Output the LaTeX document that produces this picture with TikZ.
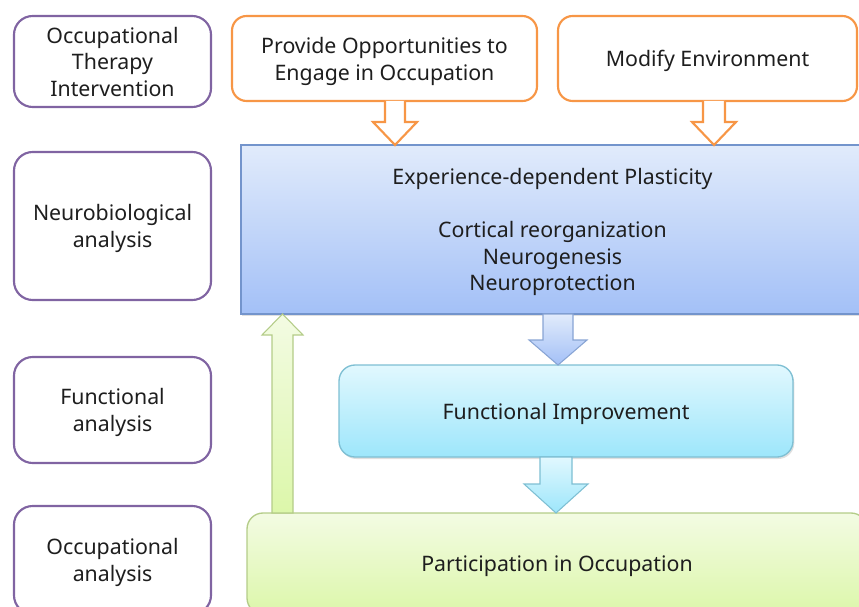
\documentclass[tikz,border=0pt]{standalone}
\usepackage{fontspec}
\setmainfont{Noto Sans}
\usetikzlibrary{calc,shadows}
\definecolor{txt}{HTML}{1E1E1E}
\definecolor{purp}{HTML}{8064A2}
\definecolor{oran}{HTML}{F79646}
\definecolor{bluB}{HTML}{7394CC}
\definecolor{bluT}{HTML}{E1EBFB}
\definecolor{bluD}{HTML}{A3C0F7}
\definecolor{cyaB}{HTML}{7EBFD3}
\definecolor{cyaT}{HTML}{E1F8FE}
\definecolor{cyaD}{HTML}{9DE6FB}
\definecolor{grnB}{HTML}{B4CC88}
\definecolor{grnT}{HTML}{F3FBE3}
\definecolor{grnD}{HTML}{DCF7AA}
\tikzset{
  base/.style={inner sep=0pt, outer sep=0pt, align=center, text=txt,
    font=\fontsize{16}{19.9}\selectfont},
  pbox/.style={base, draw=purp, line width=1.6pt, rounded corners=14pt, fill=white},
  obox/.style={base, draw=oran, line width=1.6pt, rounded corners=11pt, fill=white},
  bbox/.style={base, draw=bluB, line width=1pt, top color=bluT, bottom color=bluD,
    drop shadow={shadow xshift=1pt, shadow yshift=-1.5pt, opacity=0.25}},
  cbox/.style={base, draw=cyaB, line width=1pt, rounded corners=12pt, top color=cyaT, bottom color=cyaD,
    drop shadow={shadow xshift=1pt, shadow yshift=-1.5pt, opacity=0.25}},
  gbox/.style={base, draw=grnB, line width=1pt, rounded corners=12pt, top color=grnT, bottom color=grnD},
  oarrow/.style={draw=oran, line width=1.6pt, fill=white, line join=miter},
  barrow/.style={draw=bluB!85, line width=0.8pt, top color=bluT, bottom color=bluD},
  carrow/.style={draw=cyaB, line width=0.8pt, top color=cyaT, bottom color=cyaD},
  garrow/.style={draw=grnB, line width=0.8pt, top color=grnT, bottom color=grnD},
}
% box: name, style, x1, y1, x2, y2, text
\newcommand\mybx[7]{%
  \node[#2, minimum width={(#5-#3)*0.75pt}, minimum height={(#6-#4)*0.75pt}]
    (#1) at ({(#3+#5)/2},{(#4+#6)/2})
    {\raisebox{-2.2pt}[\height][\depth]{\begin{tabular}{@{}c@{}}#7\end{tabular}}};}
\begin{document}
\begin{tikzpicture}[x=0.75pt,y=-0.75pt]
\useasboundingbox (0,0) rectangle (859,606);
\clip (0,0) rectangle (859,606);
% left column
\mybx{l1}{pbox}{14}{16}{211}{107}{Occupational\\Therapy\\Intervention}
\mybx{l2}{pbox}{14}{152}{211}{300}{Neurobiological\\analysis}
\mybx{l3}{pbox}{14}{357}{211}{463}{Functional\\analysis}
\mybx{l4}{pbox}{14}{506}{211}{614}{Occupational\\analysis}
% orange
\mybx{prov}{obox}{232}{16}{537}{101}{Provide Opportunities to\\Engage in Occupation}
\mybx{modi}{obox}{558}{16}{857}{101}{Modify Environment}
% main boxes
\mybx{plas}{bbox}{241}{145}{864}{314}{Experience-dependent Plasticity\\[19.9pt]Cortical reorganization\\Neurogenesis\\Neuroprotection}
\mybx{func}{cbox}{339}{365}{793}{457}{Functional Improvement}
\mybx{part}{gbox}{247}{513}{867}{614}{Participation in Occupation}
% arrows (orange hollow)
\coordinate (a1s) at (395,101); \coordinate (a1e) at (395,145);
\coordinate (a2s) at (714,101); \coordinate (a2e) at (714,145);
\path[oarrow] ($(a1s)+(-10,0)$) -- ($(a1e)+(-10,-23)$) -- ($(a1e)+(-22,-23)$) -- (a1e)
  -- ($(a1e)+(22,-23)$) -- ($(a1e)+(10,-23)$) -- ($(a1s)+(10,0)$);
\path[oarrow] ($(a2s)+(-11,0)$) -- ($(a2e)+(-11,-23)$) -- ($(a2e)+(-22,-23)$) -- (a2e)
  -- ($(a2e)+(22,-23)$) -- ($(a2e)+(11,-23)$) -- ($(a2s)+(11,0)$);
% blue arrow
\coordinate (a3s) at (558,314); \coordinate (a3e) at (558,365);
\path[barrow] ($(a3s)+(-15,0)$) -- ($(a3e)+(-15,-25)$) -- ($(a3e)+(-29,-25)$) -- (a3e)
  -- ($(a3e)+(29,-25)$) -- ($(a3e)+(15,-25)$) -- ($(a3s)+(15,0)$) -- cycle;
% cyan arrow
\coordinate (a4s) at (556,457); \coordinate (a4e) at (556,513);
\path[carrow] ($(a4s)+(-16,0)$) -- ($(a4e)+(-16,-29)$) -- ($(a4e)+(-32,-29)$) -- (a4e)
  -- ($(a4e)+(32,-29)$) -- ($(a4e)+(16,-29)$) -- ($(a4s)+(16,0)$) -- cycle;
% green up arrow
\coordinate (a5s) at (282.5,513); \coordinate (a5e) at (282.5,314);
\path[garrow] ($(a5s)+(-10.5,0)$) -- ($(a5e)+(-10.5,21)$) -- ($(a5e)+(-20.5,21)$) -- (a5e)
  -- ($(a5e)+(20.5,21)$) -- ($(a5e)+(10.5,21)$) -- ($(a5s)+(10.5,0)$) -- cycle;
\end{tikzpicture}
\end{document}
